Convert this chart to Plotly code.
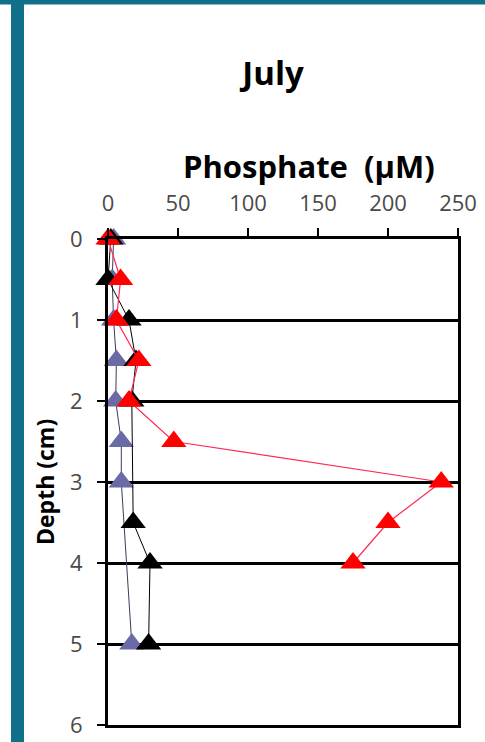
import plotly.graph_objects as go

# Phosphate profiles (µM) versus sediment depth (cm), July
red_depth = [0, 0.5, 1, 1.5, 2, 2.5, 3, 3.5, 4]
red_phosphate = [0, 9, 6, 22, 15, 47, 238, 200, 175]

black_depth = [0, 0.5, 1, 1.5, 2, 3.5, 4, 5]
black_phosphate = [2, 0, 15, 20, 17, 18, 30, 29]

blue_depth = [0, 0.5, 1, 1.5, 2, 2.5, 3, 5]
blue_phosphate = [4, 3, 4, 6, 5.5, 9.5, 9.5, 17]

x_ticks = [0, 50, 100, 150, 200, 250]
y_ticks = [0, 1, 2, 3, 4, 5, 6]

W, H = 485, 742
L, R, T, B = 108, 27, 239, 17
PW, PH = W - L - R, H - T - B

FONT = "Open Sans"
TEAL = "#10708A"


def px_x(p):
    return (p - L) / PW


def px_y(p):
    return 1 - (p - T) / PH


fig = go.Figure()

series = [
    (blue_depth, blue_phosphate, "#6A6AA6", "#3c3c55", 1),
    (black_depth, black_phosphate, "#000000", "#000000", 1),
    (red_depth, red_phosphate, "#FF0000", "#FF2A55", 1.2),
]
for depth, conc, mcol, lcol, lw in series:
    fig.add_trace(go.Scatter(
        x=conc, y=depth, mode="lines+markers",
        line=dict(color=lcol, width=lw),
        marker=dict(symbol="triangle-up", size=22, color=mcol,
                    line=dict(width=0)),
        showlegend=False, cliponaxis=False,
    ))

fig.update_xaxes(
    range=[0, 250], side="top", tickvals=x_ticks,
    showgrid=False, zeroline=False,
    showline=True, mirror=True, linecolor="black", linewidth=3,
    ticks="outside", ticklen=8, tickwidth=1.5, tickcolor="black",
    tickfont=dict(family=FONT, size=22, color="#4a4a4a"),
    ticklabelstandoff=8, automargin=False,
)
fig.update_yaxes(
    range=[6, 0], tickvals=y_ticks,
    showgrid=True, gridcolor="black", gridwidth=2.5, zeroline=False,
    showline=True, mirror=True, linecolor="black", linewidth=3,
    ticks="outside", ticklen=8, tickwidth=1.5, tickcolor="black",
    tickfont=dict(family=FONT, size=22, color="#4a4a4a"),
    ticklabelstandoff=10, automargin=False,
)

fig.add_annotation(
    text="Phosphate  (µM)", xref="paper", yref="paper",
    x=px_x(309), y=px_y(166), xanchor="center", yanchor="middle",
    showarrow=False, font=dict(family=FONT, size=31, color="black", weight="bold"),
)
fig.add_annotation(
    text="Depth (cm)", xref="paper", yref="paper",
    x=px_x(45), y=px_y(482), xanchor="center", yanchor="middle",
    textangle=-90, showarrow=False,
    font=dict(family=FONT, size=23, color="black", weight="bold"),
)

# teal frame along the top and left edge
fig.add_shape(type="rect", xref="paper", yref="paper",
              x0=px_x(0), x1=px_x(W), y0=px_y(0), y1=px_y(4.5),
              fillcolor=TEAL, line=dict(width=0), layer="above")
fig.add_shape(type="rect", xref="paper", yref="paper",
              x0=px_x(11), x1=px_x(24), y0=px_y(0), y1=px_y(H),
              fillcolor=TEAL, line=dict(width=0), layer="above")

fig.update_layout(
    width=W, height=H,
    margin=dict(l=L, r=R, t=T, b=B, autoexpand=False),
    paper_bgcolor="white", plot_bgcolor="white",
    title=dict(text="July", x=273 / W, y=1 - 73 / H, xanchor="center",
               yanchor="middle", xref="container", yref="container",
               font=dict(family=FONT, size=33, color="black", weight="bold")),
)

fig.write_html("out.html")
